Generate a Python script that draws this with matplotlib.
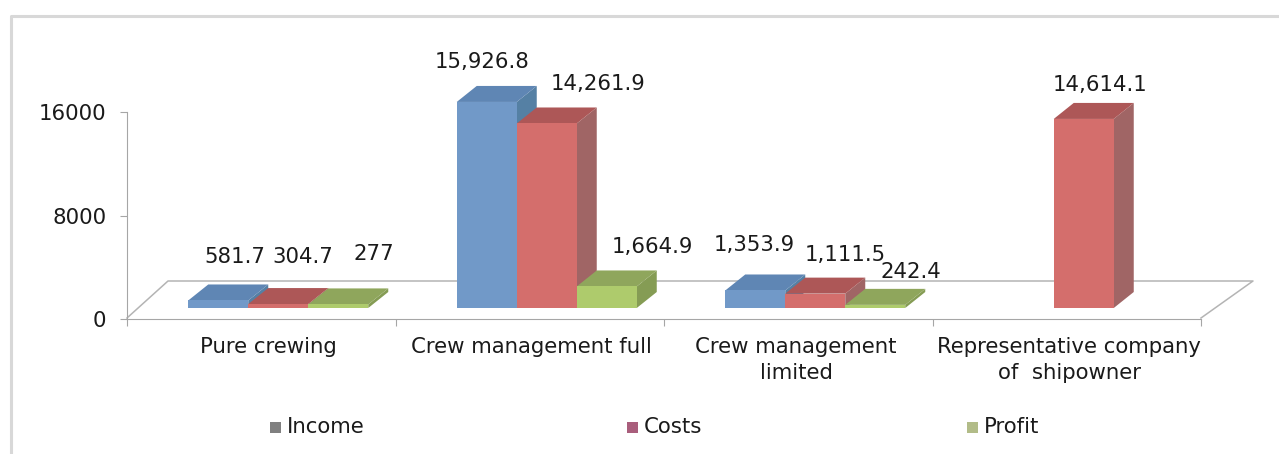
import numpy as np
import matplotlib
matplotlib.use('Agg')
import matplotlib.pyplot as plt
from matplotlib.patches import Polygon, Rectangle
from matplotlib.transforms import Affine2D

categories = ['Pure crewing', 'Crew management full', 'Crew management\nlimited',
              'Representative company\nof  shipowner']
series_names = ['Income', 'Costs', 'Profit']
income = [581.7, 15926.8, 1353.9, 0]
costs = [304.7, 14261.9, 1111.5, 14614.1]
profit = [277, 1664.9, 242.4, 0]
value_labels = [['581.7', '15,926.8', '1,353.9', None],
                ['304.7', '14,261.9', '1,111.5', '14,614.1'],
                ['277', '1,664.9', '242.4', None]]
y_ticks = [0, 8000, 16000]

W, H = 1279, 454
# label centres in image pixels, the source placed them by hand
label_pos = [[(235, 257), (482, 62), (754, 245), None],
             [(303, 257), (598, 84), (845, 255), (1100, 85)],
             [(374, 254), (652, 247), (911, 272), None]]
cat_x = [268, 531, 796, 1069]
face_cols = ['#7199C8', '#D46E6C', '#AECB6C']
top_cols = ['#5F86B4', '#AD5757', '#8FA65C']
side_cols = ['#5580A4', '#A06565', '#859C54']
legend_cols = ['#808080', '#A95E7C', '#B2BC88']
legend_x = [270, 627, 967]
FS = 15.3

fig = plt.figure(figsize=(W / 100, H / 100), dpi=100)
px = Affine2D().scale(1, -1).translate(0, H)  # image pixels, y going down

ax = fig.add_axes([127 / W, (H - 319) / H, (1201 - 127) / W, 207 / H])
ax.set_xlim(0, 4)
ax.set_ylim(0, 16000)

# outer frame
fig.add_artist(plt.Line2D([10.5, 10.5, W], [H, 15.5, 15.5], transform=px, color='#D8D8D8', lw=2.2))

# floor of the 3d box
ax.plot([127, 168, 1253, 1201], [318, 281, 281, 318], transform=px, color='#B4B4B4', lw=1.1,
        clip_on=False, zorder=1)

bar_w = 60 / 268.5
dx = 20 / 268.5
dy = 16 / 207 * 16000
lift = 11 / 207 * 16000
shift = 17 / 268.5

for i, vals in enumerate([income, costs, profit]):
    xs = np.arange(4) + 0.5 + shift + (i - 1) * bar_w
    for x, v in zip(xs, vals):
        if v == 0:
            continue
        x0, x1 = x - bar_w / 2, x + bar_w / 2
        y0, y1 = lift, lift + v
        side = [(x1, y0), (x1 + dx, y0 + dy), (x1 + dx, y1 + dy), (x1, y1)]
        top = [(x0, y1), (x0 + dx, y1 + dy), (x1 + dx, y1 + dy), (x1, y1)]
        ax.add_patch(Polygon(side, color=side_cols[i], lw=0, zorder=3 + i, clip_on=False))
        ax.add_patch(Polygon(top, color=top_cols[i], lw=0, zorder=3 + i, clip_on=False))
    ax.bar(xs, vals, bar_w, bottom=lift, color=face_cols[i], lw=0, zorder=3 + i, clip_on=False)

for names, places in zip(value_labels, label_pos):
    for name, pos in zip(names, places):
        if name is not None:
            ax.text(pos[0], pos[1], name, transform=px, ha='center', va='center',
                    fontsize=FS, color='#1A1A1A', zorder=10, clip_on=False)

for s in ['top', 'right']:
    ax.spines[s].set_visible(False)
ax.patch.set_alpha(0)
for s in ['left', 'bottom']:
    ax.spines[s].set_color('#A6A6A6')
ax.set_yticks(y_ticks)
ax.set_yticklabels([str(t) for t in y_ticks], fontsize=FS, color='#1A1A1A')
ax.set_xticks(range(5))
ax.set_xticklabels([])
ax.tick_params(color='#A6A6A6', length=5)
ax.tick_params(axis='y', pad=10)

for cat, xc in zip(categories, cat_x):
    ax.text(xc, 337, cat, transform=px, ha='center', va='top', fontsize=FS, color='#1A1A1A',
            linespacing=1.35, clip_on=False)

# legend placed by hand to keep the wide spacing
for name, col, lx in zip(series_names, legend_cols, legend_x):
    fig.add_artist(Rectangle((lx, 422), 11, 11, transform=px, color=col, lw=0))
    fig.text(lx + 17, 427, name, transform=px, va='center', fontsize=FS, color='#1A1A1A')

fig.savefig('out.png', dpi=100)
